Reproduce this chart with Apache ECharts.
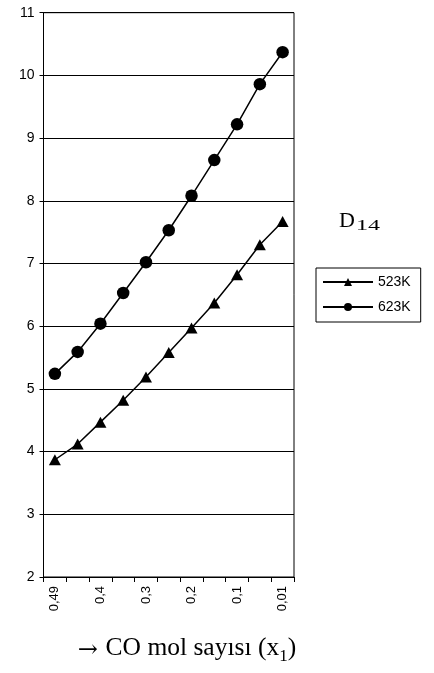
<!DOCTYPE html>
<html>
<head>
<meta charset="utf-8">
<script src="https://cdn.jsdelivr.net/npm/echarts@6/dist/echarts.min.js"></script>
<style>
  html, body { margin: 0; padding: 0; background: #fff; }
  #chart { width: 434px; height: 673px; }
</style>
</head>
<body>
<div id="chart"></div>
<script>
// CO mole fraction categories (x1), decreasing left to right
const categories = ['0,49', '0,45', '0,4', '0,35', '0,3', '0,25', '0,2', '0,15', '0,1', '0,05', '0,01'];
// D14 values at the two temperatures
const values523K = [3.87, 4.12, 4.47, 4.82, 5.19, 5.58, 5.97, 6.37, 6.82, 7.30, 7.67];
const values623K = [5.24, 5.59, 6.04, 6.53, 7.02, 7.53, 8.08, 8.65, 9.22, 9.86, 10.37];
const seriesNames = ['523K', '623K'];
const yTicks = { min: 2, max: 11, interval: 1 };

const chart = echarts.init(document.getElementById('chart'), null, { renderer: 'canvas' });

const sans = 'Liberation Sans, Arial, sans-serif';
const serif = 'Liberation Serif, Times New Roman, serif';

chart.setOption({
  backgroundColor: '#fff',
  animation: false,
  grid: {
    left: 43.5, right: 140, top: 12.7, bottom: 96,
    show: true, borderColor: '#000', borderWidth: 1, backgroundColor: 'transparent'
  },
  legend: {
    data: seriesNames,
    orient: 'vertical',
    left: 316, top: 268,
    padding: [7, 10, 8, 6],
    itemGap: 11,
    itemWidth: 50,
    itemHeight: 10,
    borderColor: '#000',
    borderWidth: 1,
    textStyle: { fontFamily: sans, fontSize: 14, color: '#000' }
  },
  xAxis: {
    type: 'category',
    data: categories,
    boundaryGap: true,
    axisLine: { show: true, lineStyle: { color: '#000', width: 1 } },
    axisTick: { show: true, interval: 0, length: 5, lineStyle: { color: '#000' } },
    axisLabel: {
      interval: 1, rotate: 90, margin: 9,
      fontFamily: sans, fontSize: 13, color: '#000'
    },
    splitLine: { show: false }
  },
  yAxis: {
    type: 'value',
    min: yTicks.min, max: yTicks.max, interval: yTicks.interval,
    axisLine: { show: true, lineStyle: { color: '#000', width: 1 } },
    axisTick: { show: true, length: 4, lineStyle: { color: '#000' } },
    axisLabel: { margin: 9, fontFamily: sans, fontSize: 14, color: '#000' },
    splitLine: { show: true, lineStyle: { color: '#000', width: 1 } }
  },
  series: [
    {
      name: seriesNames[0],
      type: 'line',
      data: values523K,
      symbol: 'triangle',
      symbolSize: [12, 11],
      lineStyle: { color: '#000', width: 1.5 },
      itemStyle: { color: '#000', borderWidth: 0 },
      z: 3
    },
    {
      name: seriesNames[1],
      type: 'line',
      data: values623K,
      symbol: 'circle',
      symbolSize: 12.5,
      lineStyle: { color: '#000', width: 1.5 },
      itemStyle: { color: '#000', borderWidth: 0 },
      z: 3
    }
  ],
  graphic: [
    // "D" with a wide subscript "14"
    {
      type: 'text',
      left: 339, top: 210,
      style: { text: 'D', fontFamily: serif, fontSize: 22, fill: '#000' }
    },
    {
      type: 'text',
      x: 356, y: 219,
      scaleX: 1.6,
      style: { text: '14', fontFamily: serif, fontSize: 15, fill: '#000' }
    },
    {
      type: 'text',
      x: 187, y: 647,
      style: {
        text: '{a|→ }{m|CO mol sayısı (x}{s|1}{m|)}',
        align: 'center', verticalAlign: 'middle',
        rich: {
          a: { fontFamily: 'DejaVu Serif, serif', fontSize: 24, fill: '#000', verticalAlign: 'bottom', lineHeight: 26, padding: [0, 0, -2, 0] },
          m: { fontFamily: serif, fontSize: 25.5, fill: '#000', verticalAlign: 'bottom', lineHeight: 28 },
          s: { fontFamily: serif, fontSize: 17, fill: '#000', verticalAlign: 'bottom', lineHeight: 22, padding: [0, 0, -4, 0] }
        }
      }
    }
  ]
});
</script>
</body>
</html>
